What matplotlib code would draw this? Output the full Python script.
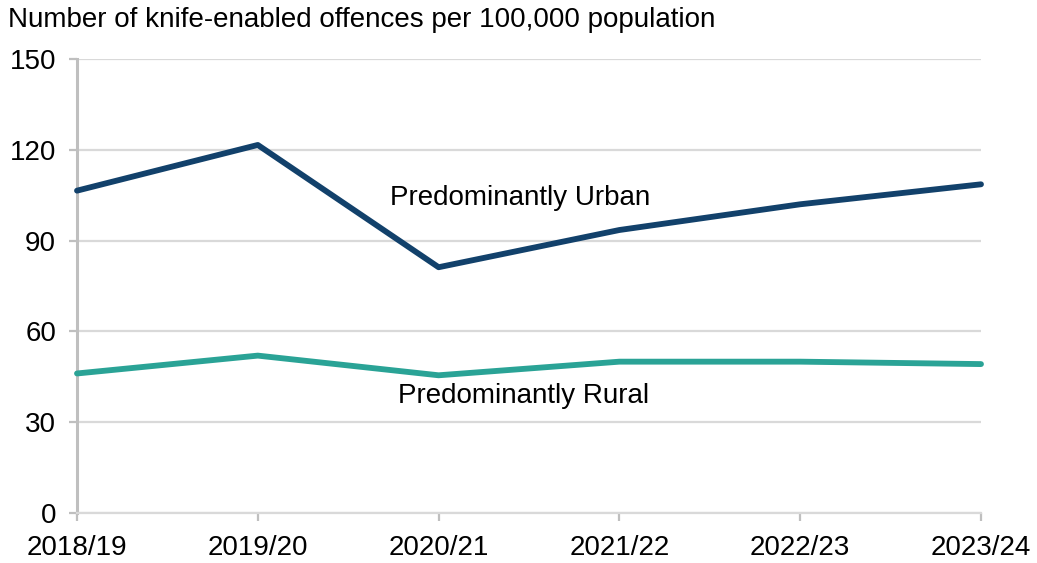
import numpy as np
import matplotlib.pyplot as plt

plt.rcParams['font.family'] = ['Liberation Sans', 'DejaVu Sans']

years = ["2018/19", "2019/20", "2020/21", "2021/22", "2022/23", "2023/24"]
urban = [106.5, 121.6, 81.2, 93.5, 102.0, 108.6]
rural = [46.1, 52.0, 45.5, 50.0, 50.0, 49.2]

urbanColour = "#12416b"
ruralColour = "#2aa396"
gridColour = "#d9d9d9"
axisColour = "#bfbfbf"
fs = 20

fig = plt.figure(figsize=(10.37, 5.63), dpi=100)
ax = fig.add_axes([77/1037, 1-513/563, (981-77)/1037, (513-59)/563])

x = np.arange(len(years))
ax.plot(x, urban, color=urbanColour, lw=4.2, solid_capstyle='round', zorder=3, clip_on=False)
ax.plot(x, rural, color=ruralColour, lw=4.2, solid_capstyle='round', zorder=3, clip_on=False)

ax.set_xlim(0, len(years)-1)
ax.set_ylim(0, 150)
ax.set_yticks(np.arange(0, 151, 30))
ax.set_xticks(x)
ax.set_xticklabels(years)

ax.grid(axis='y', color=gridColour, lw=1.6, zorder=0)
ax.set_axisbelow(True)
for s in ['top', 'right']:
    ax.spines[s].set_visible(False)
ax.spines['left'].set_color(axisColour)
ax.spines['left'].set_linewidth(2.2)
ax.spines['bottom'].set_color(gridColour)
ax.spines['bottom'].set_linewidth(1.6)
ax.tick_params(axis='y', colors=axisColour, labelcolor='black', labelsize=fs,
               length=6, width=1.6, direction='out', pad=9)
ax.tick_params(axis='x', colors=axisColour, labelcolor='black', labelsize=fs,
               length=6, width=1.6, direction='out', pad=10)

ax.text(2.45, 104, "Predominantly Urban", fontsize=fs, ha='center', va='center')
ax.text(2.47, 38.5, "Predominantly Rural", fontsize=fs, ha='center', va='center')

fig.text(8/1037, 1-20/563, "Number of knife-enabled offences per 100,000 population",
         fontsize=fs, ha='left', va='center')

fig.savefig("out.png", dpi=100)
